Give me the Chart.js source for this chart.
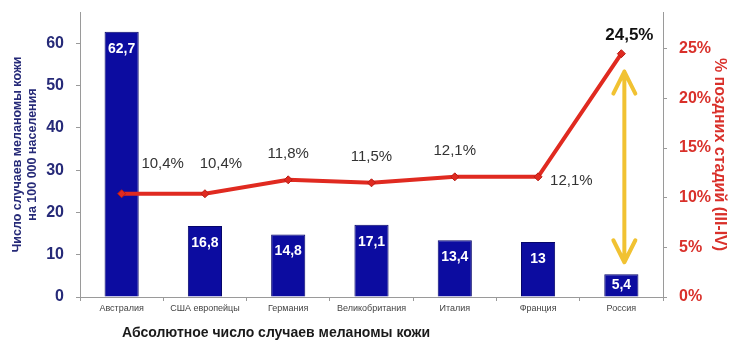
<!DOCTYPE html>
<html>
<head>
<meta charset="utf-8">
<script src="https://cdn.jsdelivr.net/npm/chart.js@4.4.1/dist/chart.umd.min.js"></script>
<style>
  html, body { margin: 0; padding: 0; background: #fff; }
  #wrap { width: 729px; height: 344px; }
</style>
</head>
<body>
<div id="wrap"><canvas id="melanomaChart" width="729" height="344"></canvas></div>
<script>
// Incidence per 100 000 and share of late stages by country
const countries = ['Австралия', 'США европейцы', 'Германия', 'Великобритания', 'Италия', 'Франция', 'Россия'];
const incidence = [62.7, 16.8, 14.8, 17.1, 13.4, 13, 5.4];
const lateStage = [10.4, 10.4, 11.8, 11.5, 12.1, 12.1, 24.5];
// gap marker drawn over Russia, in % of the right axis
const gapRange = [22.7, 3.5];

const FONT = '"Liberation Sans", Arial, sans-serif';
const NAVY = '#262a78';
const RED = '#d9302a';

function fmt(v) {
    return String(v).replace('.', ',');
}

// Values on bars and percentages along the line
const valueLabels = {
    id: 'valueLabels',
    afterDatasetsDraw(chart) {
        const ctx = chart.ctx;
        ctx.save();

        chart.getDatasetMeta(0).data.forEach((bar, i) => {
            const y = Math.min(bar.y + 17, (bar.y + bar.base) / 2);
            ctx.font = 'bold 14px ' + FONT;
            ctx.fillStyle = '#ffffff';
            ctx.textAlign = 'center';
            ctx.textBaseline = 'middle';
            ctx.fillText(fmt(incidence[i]), bar.x, y);
        });

        chart.getDatasetMeta(1).data.forEach((pt, i) => {
            ctx.textBaseline = 'middle';
            ctx.font = '15px ' + FONT;
            ctx.fillStyle = '#333333';
            ctx.textAlign = 'center';
            let x = pt.x, y = pt.y - 26;
            if (i === 0) { x = pt.x + 41; y = pt.y - 30; }
            if (i === 1) { x = pt.x + 16; y = pt.y - 30; }
            if (i === 5) { x = pt.x + 12; y = pt.y + 4; ctx.textAlign = 'left'; }
            if (i === 6) {
                x = pt.x + 8; y = pt.y - 18;
                ctx.font = 'bold 17px ' + FONT;
                ctx.fillStyle = '#111111';
            }
            ctx.fillText(fmt(lateStage[i]) + '%', x, y);
        });
        ctx.restore();
    }
};

// Yellow double-headed arrow showing the gap for Russia
const gapArrow = {
    id: 'gapArrow',
    beforeDatasetsDraw(chart) {
        const ctx = chart.ctx;
        const x = chart.scales.x.getPixelForValue(6) + 3;
        const yTop = chart.scales.y1.getPixelForValue(gapRange[0]);
        const yBot = chart.scales.y1.getPixelForValue(gapRange[1]);
        const head = 22, half = 11;
        ctx.save();
        ctx.strokeStyle = '#f1c232';
        ctx.lineWidth = 4;
        ctx.lineCap = 'round';
        ctx.lineJoin = 'round';
        ctx.beginPath();
        ctx.moveTo(x, yTop);
        ctx.lineTo(x, yBot);
        ctx.moveTo(x - half, yTop + head);
        ctx.lineTo(x, yTop);
        ctx.lineTo(x + half, yTop + head);
        ctx.moveTo(x - half, yBot - head);
        ctx.lineTo(x, yBot);
        ctx.lineTo(x + half, yBot - head);
        ctx.stroke();
        ctx.restore();
    }
};

// Caption under the category axis
const bottomCaption = {
    id: 'bottomCaption',
    afterDraw(chart) {
        const ctx = chart.ctx;
        ctx.save();
        ctx.font = 'bold 14px ' + FONT;
        ctx.fillStyle = '#1a1a1a';
        ctx.textAlign = 'left';
        ctx.textBaseline = 'middle';
        ctx.fillText('Абсолютное число случаев меланомы кожи', chart.chartArea.left + 42, 333);
        ctx.restore();
    }
};

const axisGrey = '#9a9a9a';

// fixed scale box size, without extra room for overflowing tick labels
function fixWidth(w) {
    return s => { s.width = w; s.paddingTop = 0; s.paddingBottom = 0; };
}

new Chart(document.getElementById('melanomaChart'), {
    data: {
        labels: countries,
        datasets: [
            {
                type: 'bar',
                data: incidence,
                yAxisID: 'y',
                backgroundColor: '#0c0ca0',
                borderColor: '#06066a',
                borderWidth: 1,
                barPercentage: 0.41,
                categoryPercentage: 1,
                order: 2
            },
            {
                type: 'line',
                data: lateStage,
                yAxisID: 'y1',
                borderColor: '#e02a20',
                borderWidth: 4,
                pointStyle: 'rectRot',
                pointRadius: 4,
                pointBackgroundColor: '#e02a20',
                pointBorderColor: '#b81c14',
                pointBorderWidth: 1,
                tension: 0,
                order: 1
            }
        ]
    },
    options: {
        responsive: false,
        animation: false,
        layout: { padding: { top: 12, left: 0, right: 0, bottom: 0 } },
        plugins: {
            legend: { display: false },
            tooltip: { enabled: false }
        },
        scales: {
            x: {
                offset: true,
                grid: { offset: true, drawOnChartArea: false, drawTicks: true, tickLength: 4, color: axisGrey },
                border: { color: axisGrey },
                ticks: { color: '#444', font: { family: FONT, size: 9 }, padding: 2, maxRotation: 0, autoSkip: false },
                afterFit: s => { s.height = 47; s.paddingLeft = 0; s.paddingRight = 0; }
            },
            y: {
                position: 'left',
                min: 0,
                max: 67.4,
                afterBuildTicks: s => { s.ticks = s.ticks.filter(t => t.value % 10 === 0); },
                ticks: { stepSize: 10, color: NAVY, font: { family: FONT, size: 16, weight: 'bold' }, padding: 12 },
                grid: { drawOnChartArea: false, drawTicks: true, tickLength: 4, color: axisGrey },
                border: { color: axisGrey },
                title: {
                    display: true,
                    text: ['Число случаев меланомы кожи', 'на 100 000 населения'],
                    color: NAVY,
                    font: { family: FONT, size: 12.5, weight: 'bold' },
                    padding: { top: 10, bottom: 0 }
                },
                afterFit: fixWidth(80)
            },
            y1: {
                position: 'right',
                min: 0,
                max: 28.7,
                afterBuildTicks: s => { s.ticks = s.ticks.filter(t => t.value % 5 === 0); },
                ticks: {
                    stepSize: 5,
                    color: RED,
                    font: { family: FONT, size: 16, weight: 'bold' },
                    padding: 12,
                    callback: v => v + '%'
                },
                grid: { drawOnChartArea: false, drawTicks: true, tickLength: 4, color: axisGrey },
                border: { color: axisGrey },
                title: {
                    display: true,
                    text: '% поздних стадий (III-IV)',
                    color: RED,
                    font: { family: FONT, size: 16, weight: 'bold' },
                    padding: { top: 0, bottom: 0 }
                },
                afterFit: fixWidth(66)
            }
        }
    },
    plugins: [gapArrow, valueLabels, bottomCaption]
});
</script>
</body>
</html>
